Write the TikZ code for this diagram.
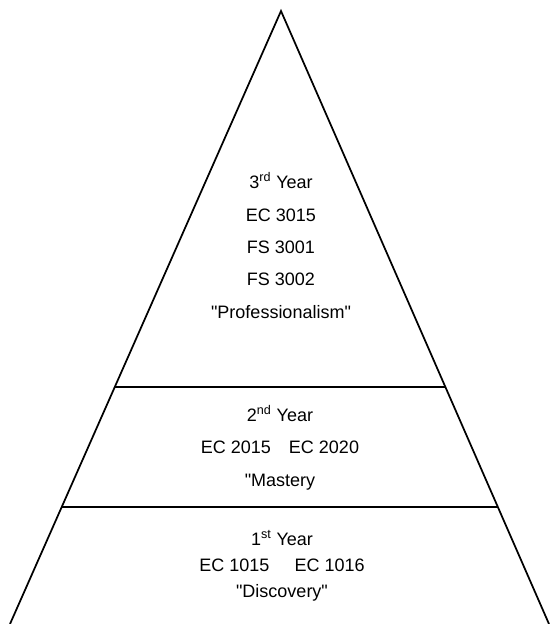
\documentclass[tikz,border=0pt]{standalone}
\usepackage{fontspec}
\setmainfont{Liberation Sans}
\usetikzlibrary{calc}
\definecolor{pyInk}{HTML}{000000}
\tikzset{
  py diagram/.style={x=0.75pt, y=-0.75pt, text=pyInk,
    font=\fontsize{13.5}{24.2}\selectfont},
  py edge/.style={draw=pyInk, line width=1.3pt},
  py tier/.style={align=center, inner sep=0pt, anchor=base},
  py tight/.style={py tier, font=\fontsize{13.5}{19.5}\selectfont}
}
\newcommand{\dq}{\textquotedbl}
\begin{document}
\begin{tikzpicture}[py diagram]
\useasboundingbox (0,0) rectangle (550,624);
\coordinate (apex) at (281,11);
\coordinate (baseL) at (10,624);
\coordinate (baseR) at (549,624);
\coordinate (upL) at ($(apex)!0.6134!(baseL)$);
\coordinate (upR) at ($(apex)!0.6134!(baseR)$);
\coordinate (lowL) at ($(apex)!0.8091!(baseL)$);
\coordinate (lowR) at ($(apex)!0.8091!(baseR)$);
\draw[py edge] (baseL) -- (apex) -- (baseR);
\draw[py edge] (upL) -- (upR);
\draw[py edge] (lowL) -- (lowR);
% tiers, top to bottom (anchored at the last line)
\node[py tier] (third) at (281,318)
  {3\textsuperscript{rd} Year\\EC 3015\\FS 3001\\FS 3002\\\dq Professionalism\dq};
\node[py tier] (second) at (280,486)
  {2\textsuperscript{nd} Year\\EC 2015\hspace{1em}EC 2020\\\dq Mastery};
\node[py tight] (first) at (282,597)
  {1\textsuperscript{st} Year\\EC 1015\hspace{1.4em}EC 1016\\\dq Discovery\dq};
\end{tikzpicture}
\end{document}
